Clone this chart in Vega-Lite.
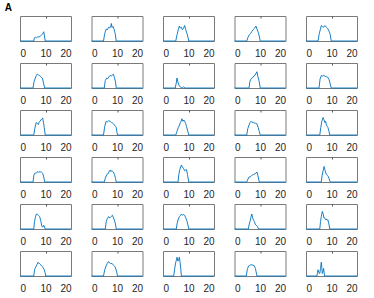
{
"$schema": "https://vega.github.io/schema/vega-lite/v6.json",
"padding": {"left": 4, "top": 3, "right": 0, "bottom": 0},
"title": {"text": "A", "anchor": "start", "fontSize": 10, "fontWeight": "bold", "font": "Liberation Sans", "dx": -12, "offset": 2, "color": "#000000"},
"datasets": {"d": [
{"r":1,"c":1,"x":0,"y":0},{"r":1,"c":1,"x":5.4,"y":0},{"r":1,"c":1,"x":5.6,"y":0.12},{"r":1,"c":1,"x":6.0,"y":0.15},{"r":1,"c":1,"x":6.5,"y":0.13},{"r":1,"c":1,"x":7.0,"y":0.17},{"r":1,"c":1,"x":7.5,"y":0.16},{"r":1,"c":1,"x":8.0,"y":0.2},{"r":1,"c":1,"x":8.5,"y":0.25},{"r":1,"c":1,"x":9.0,"y":0.3},{"r":1,"c":1,"x":9.3,"y":0.37},{"r":1,"c":1,"x":9.6,"y":0.2},{"r":1,"c":1,"x":9.9,"y":0},{"r":1,"c":1,"x":20,"y":0},
{"r":1,"c":2,"x":0,"y":0},{"r":1,"c":2,"x":4.7,"y":0},{"r":1,"c":2,"x":5.2,"y":0.3},{"r":1,"c":2,"x":5.75,"y":0.48},{"r":1,"c":2,"x":6.2,"y":0.45},{"r":1,"c":2,"x":6.7,"y":0.55},{"r":1,"c":2,"x":7.2,"y":0.52},{"r":1,"c":2,"x":7.6,"y":0.6},{"r":1,"c":2,"x":7.8,"y":0.7},{"r":1,"c":2,"x":8.0,"y":0.55},{"r":1,"c":2,"x":8.5,"y":0.58},{"r":1,"c":2,"x":8.9,"y":0.45},{"r":1,"c":2,"x":9.3,"y":0.3},{"r":1,"c":2,"x":9.7,"y":0},{"r":1,"c":2,"x":20,"y":0},
{"r":1,"c":3,"x":0,"y":0},{"r":1,"c":3,"x":5.0,"y":0},{"r":1,"c":3,"x":5.5,"y":0.25},{"r":1,"c":3,"x":6.0,"y":0.45},{"r":1,"c":3,"x":6.4,"y":0.6},{"r":1,"c":3,"x":6.8,"y":0.52},{"r":1,"c":3,"x":7.2,"y":0.55},{"r":1,"c":3,"x":7.6,"y":0.45},{"r":1,"c":3,"x":8.0,"y":0.5},{"r":1,"c":3,"x":8.5,"y":0.62},{"r":1,"c":3,"x":8.9,"y":0.45},{"r":1,"c":3,"x":9.4,"y":0.3},{"r":1,"c":3,"x":9.8,"y":0.15},{"r":1,"c":3,"x":10.1,"y":0},{"r":1,"c":3,"x":20,"y":0},
{"r":1,"c":4,"x":0,"y":0},{"r":1,"c":4,"x":4.8,"y":0},{"r":1,"c":4,"x":5.3,"y":0.15},{"r":1,"c":4,"x":5.8,"y":0.25},{"r":1,"c":4,"x":6.3,"y":0.3},{"r":1,"c":4,"x":6.8,"y":0.38},{"r":1,"c":4,"x":7.3,"y":0.45},{"r":1,"c":4,"x":7.8,"y":0.5},{"r":1,"c":4,"x":8.4,"y":0.6},{"r":1,"c":4,"x":8.8,"y":0.48},{"r":1,"c":4,"x":9.3,"y":0.35},{"r":1,"c":4,"x":9.7,"y":0.2},{"r":1,"c":4,"x":10.1,"y":0},{"r":1,"c":4,"x":20,"y":0},
{"r":1,"c":5,"x":0,"y":0},{"r":1,"c":5,"x":4.7,"y":0},{"r":1,"c":5,"x":5.2,"y":0.3},{"r":1,"c":5,"x":5.6,"y":0.45},{"r":1,"c":5,"x":6.0,"y":0.62},{"r":1,"c":5,"x":6.4,"y":0.58},{"r":1,"c":5,"x":6.9,"y":0.55},{"r":1,"c":5,"x":7.4,"y":0.62},{"r":1,"c":5,"x":8.0,"y":0.55},{"r":1,"c":5,"x":8.5,"y":0.5},{"r":1,"c":5,"x":9.0,"y":0.4},{"r":1,"c":5,"x":9.4,"y":0.3},{"r":1,"c":5,"x":9.9,"y":0},{"r":1,"c":5,"x":20,"y":0},
{"r":2,"c":1,"x":0,"y":0},{"r":2,"c":1,"x":5.1,"y":0},{"r":2,"c":1,"x":5.5,"y":0.25},{"r":2,"c":1,"x":6.0,"y":0.4},{"r":2,"c":1,"x":6.4,"y":0.5},{"r":2,"c":1,"x":6.8,"y":0.56},{"r":2,"c":1,"x":7.2,"y":0.52},{"r":2,"c":1,"x":7.6,"y":0.5},{"r":2,"c":1,"x":8.0,"y":0.47},{"r":2,"c":1,"x":8.4,"y":0.42},{"r":2,"c":1,"x":8.8,"y":0.4},{"r":2,"c":1,"x":9.2,"y":0.2},{"r":2,"c":1,"x":9.7,"y":0},{"r":2,"c":1,"x":20,"y":0},
{"r":2,"c":2,"x":0,"y":0},{"r":2,"c":2,"x":5.0,"y":0},{"r":2,"c":2,"x":5.4,"y":0.3},{"r":2,"c":2,"x":6.0,"y":0.4},{"r":2,"c":2,"x":6.4,"y":0.38},{"r":2,"c":2,"x":6.9,"y":0.45},{"r":2,"c":2,"x":7.3,"y":0.5},{"r":2,"c":2,"x":7.8,"y":0.48},{"r":2,"c":2,"x":8.2,"y":0.52},{"r":2,"c":2,"x":8.6,"y":0.55},{"r":2,"c":2,"x":9.0,"y":0.42},{"r":2,"c":2,"x":9.4,"y":0.25},{"r":2,"c":2,"x":9.7,"y":0},{"r":2,"c":2,"x":20,"y":0},
{"r":2,"c":3,"x":0,"y":0},{"r":2,"c":3,"x":4.8,"y":0},{"r":2,"c":3,"x":5.2,"y":0.2},{"r":2,"c":3,"x":5.5,"y":0.4},{"r":2,"c":3,"x":5.8,"y":0.25},{"r":2,"c":3,"x":6.2,"y":0.12},{"r":2,"c":3,"x":6.5,"y":0.08},{"r":2,"c":3,"x":7.0,"y":0.02},{"r":2,"c":3,"x":7.5,"y":0},{"r":2,"c":3,"x":8.0,"y":0.05},{"r":2,"c":3,"x":8.3,"y":0.03},{"r":2,"c":3,"x":8.7,"y":0},{"r":2,"c":3,"x":20,"y":0},
{"r":2,"c":4,"x":0,"y":0},{"r":2,"c":4,"x":5.7,"y":0},{"r":2,"c":4,"x":6.0,"y":0.25},{"r":2,"c":4,"x":6.4,"y":0.35},{"r":2,"c":4,"x":6.8,"y":0.4},{"r":2,"c":4,"x":7.2,"y":0.42},{"r":2,"c":4,"x":7.6,"y":0.48},{"r":2,"c":4,"x":8.1,"y":0.52},{"r":2,"c":4,"x":8.5,"y":0.6},{"r":2,"c":4,"x":8.8,"y":0.65},{"r":2,"c":4,"x":9.2,"y":0.45},{"r":2,"c":4,"x":9.7,"y":0.25},{"r":2,"c":4,"x":10.1,"y":0},{"r":2,"c":4,"x":20,"y":0},
{"r":2,"c":5,"x":0,"y":0},{"r":2,"c":5,"x":5.1,"y":0},{"r":2,"c":5,"x":5.5,"y":0.35},{"r":2,"c":5,"x":6.0,"y":0.5},{"r":2,"c":5,"x":6.5,"y":0.48},{"r":2,"c":5,"x":7.0,"y":0.5},{"r":2,"c":5,"x":7.5,"y":0.47},{"r":2,"c":5,"x":8.0,"y":0.45},{"r":2,"c":5,"x":8.5,"y":0.43},{"r":2,"c":5,"x":9.0,"y":0.35},{"r":2,"c":5,"x":9.4,"y":0.2},{"r":2,"c":5,"x":9.9,"y":0},{"r":2,"c":5,"x":20,"y":0},
{"r":3,"c":1,"x":0,"y":0},{"r":3,"c":1,"x":5.4,"y":0},{"r":3,"c":1,"x":5.8,"y":0.25},{"r":3,"c":1,"x":6.1,"y":0.4},{"r":3,"c":1,"x":6.4,"y":0.5},{"r":3,"c":1,"x":6.8,"y":0.45},{"r":3,"c":1,"x":7.2,"y":0.42},{"r":3,"c":1,"x":7.5,"y":0.52},{"r":3,"c":1,"x":7.8,"y":0.55},{"r":3,"c":1,"x":8.2,"y":0.6},{"r":3,"c":1,"x":8.6,"y":0.65},{"r":3,"c":1,"x":8.9,"y":0.68},{"r":3,"c":1,"x":9.2,"y":0.5},{"r":3,"c":1,"x":9.5,"y":0.3},{"r":3,"c":1,"x":9.9,"y":0},{"r":3,"c":1,"x":20,"y":0},
{"r":3,"c":2,"x":0,"y":0},{"r":3,"c":2,"x":4.7,"y":0},{"r":3,"c":2,"x":5.2,"y":0.35},{"r":3,"c":2,"x":5.75,"y":0.55},{"r":3,"c":2,"x":6.2,"y":0.52},{"r":3,"c":2,"x":6.7,"y":0.57},{"r":3,"c":2,"x":7.3,"y":0.55},{"r":3,"c":2,"x":7.8,"y":0.5},{"r":3,"c":2,"x":8.3,"y":0.48},{"r":3,"c":2,"x":8.6,"y":0.45},{"r":3,"c":2,"x":9.0,"y":0.4},{"r":3,"c":2,"x":9.4,"y":0.35},{"r":3,"c":2,"x":9.7,"y":0.3},{"r":3,"c":2,"x":10.0,"y":0.1},{"r":3,"c":2,"x":10.2,"y":0},{"r":3,"c":2,"x":20,"y":0},
{"r":3,"c":3,"x":0,"y":0},{"r":3,"c":3,"x":5.0,"y":0},{"r":3,"c":3,"x":5.5,"y":0.15},{"r":3,"c":3,"x":6.0,"y":0.3},{"r":3,"c":3,"x":6.5,"y":0.4},{"r":3,"c":3,"x":6.8,"y":0.5},{"r":3,"c":3,"x":7.1,"y":0.55},{"r":3,"c":3,"x":7.4,"y":0.65},{"r":3,"c":3,"x":7.8,"y":0.55},{"r":3,"c":3,"x":8.2,"y":0.6},{"r":3,"c":3,"x":8.5,"y":0.55},{"r":3,"c":3,"x":8.9,"y":0.45},{"r":3,"c":3,"x":9.2,"y":0.35},{"r":3,"c":3,"x":9.6,"y":0.2},{"r":3,"c":3,"x":10.1,"y":0},{"r":3,"c":3,"x":20,"y":0},
{"r":3,"c":4,"x":0,"y":0},{"r":3,"c":4,"x":4.8,"y":0},{"r":3,"c":4,"x":5.2,"y":0.25},{"r":3,"c":4,"x":5.7,"y":0.4},{"r":3,"c":4,"x":6.1,"y":0.5},{"r":3,"c":4,"x":6.5,"y":0.55},{"r":3,"c":4,"x":6.9,"y":0.5},{"r":3,"c":4,"x":7.3,"y":0.52},{"r":3,"c":4,"x":7.7,"y":0.48},{"r":3,"c":4,"x":8.2,"y":0.47},{"r":3,"c":4,"x":8.8,"y":0.45},{"r":3,"c":4,"x":9.3,"y":0.3},{"r":3,"c":4,"x":9.7,"y":0.15},{"r":3,"c":4,"x":10.1,"y":0},{"r":3,"c":4,"x":20,"y":0},
{"r":3,"c":5,"x":0,"y":0},{"r":3,"c":5,"x":5.4,"y":0},{"r":3,"c":5,"x":5.8,"y":0.3},{"r":3,"c":5,"x":6.2,"y":0.55},{"r":3,"c":5,"x":6.7,"y":0.7},{"r":3,"c":5,"x":7.0,"y":0.62},{"r":3,"c":5,"x":7.4,"y":0.5},{"r":3,"c":5,"x":7.7,"y":0.55},{"r":3,"c":5,"x":8.0,"y":0.4},{"r":3,"c":5,"x":8.3,"y":0.35},{"r":3,"c":5,"x":8.6,"y":0.3},{"r":3,"c":5,"x":9.0,"y":0.15},{"r":3,"c":5,"x":9.3,"y":0},{"r":3,"c":5,"x":20,"y":0},
{"r":4,"c":1,"x":0,"y":0},{"r":4,"c":1,"x":5.1,"y":0},{"r":4,"c":1,"x":5.4,"y":0.25},{"r":4,"c":1,"x":5.75,"y":0.35},{"r":4,"c":1,"x":6.2,"y":0.36},{"r":4,"c":1,"x":6.6,"y":0.38},{"r":4,"c":1,"x":7.1,"y":0.42},{"r":4,"c":1,"x":7.4,"y":0.38},{"r":4,"c":1,"x":7.8,"y":0.42},{"r":4,"c":1,"x":8.1,"y":0.4},{"r":4,"c":1,"x":8.4,"y":0.4},{"r":4,"c":1,"x":8.9,"y":0.35},{"r":4,"c":1,"x":9.3,"y":0.2},{"r":4,"c":1,"x":9.7,"y":0},{"r":4,"c":1,"x":20,"y":0},
{"r":4,"c":2,"x":0,"y":0},{"r":4,"c":2,"x":5.0,"y":0},{"r":4,"c":2,"x":5.4,"y":0.15},{"r":4,"c":2,"x":6.0,"y":0.3},{"r":4,"c":2,"x":6.4,"y":0.32},{"r":4,"c":2,"x":6.8,"y":0.4},{"r":4,"c":2,"x":7.3,"y":0.48},{"r":4,"c":2,"x":7.6,"y":0.42},{"r":4,"c":2,"x":8.0,"y":0.45},{"r":4,"c":2,"x":8.6,"y":0.4},{"r":4,"c":2,"x":9.0,"y":0.3},{"r":4,"c":2,"x":9.4,"y":0.15},{"r":4,"c":2,"x":9.7,"y":0},{"r":4,"c":2,"x":20,"y":0},
{"r":4,"c":3,"x":0,"y":0},{"r":4,"c":3,"x":5.9,"y":0},{"r":4,"c":3,"x":6.2,"y":0.3},{"r":4,"c":3,"x":6.6,"y":0.5},{"r":4,"c":3,"x":7.0,"y":0.62},{"r":4,"c":3,"x":7.2,"y":0.68},{"r":4,"c":3,"x":7.6,"y":0.6},{"r":4,"c":3,"x":8.0,"y":0.55},{"r":4,"c":3,"x":8.5,"y":0.45},{"r":4,"c":3,"x":8.9,"y":0.48},{"r":4,"c":3,"x":9.2,"y":0.5},{"r":4,"c":3,"x":9.6,"y":0.3},{"r":4,"c":3,"x":10.1,"y":0},{"r":4,"c":3,"x":20,"y":0},
{"r":4,"c":4,"x":0,"y":0},{"r":4,"c":4,"x":4.8,"y":0},{"r":4,"c":4,"x":5.3,"y":0.12},{"r":4,"c":4,"x":5.7,"y":0.2},{"r":4,"c":4,"x":6.1,"y":0.2},{"r":4,"c":4,"x":6.6,"y":0.25},{"r":4,"c":4,"x":7.0,"y":0.28},{"r":4,"c":4,"x":7.5,"y":0.3},{"r":4,"c":4,"x":8.0,"y":0.33},{"r":4,"c":4,"x":8.5,"y":0.36},{"r":4,"c":4,"x":8.8,"y":0.4},{"r":4,"c":4,"x":9.2,"y":0.25},{"r":4,"c":4,"x":9.7,"y":0},{"r":4,"c":4,"x":20,"y":0},
{"r":4,"c":5,"x":0,"y":0},{"r":4,"c":5,"x":6.0,"y":0},{"r":4,"c":5,"x":6.3,"y":0.25},{"r":4,"c":5,"x":6.7,"y":0.45},{"r":4,"c":5,"x":7.1,"y":0.62},{"r":4,"c":5,"x":7.5,"y":0.45},{"r":4,"c":5,"x":8.0,"y":0.3},{"r":4,"c":5,"x":8.3,"y":0.28},{"r":4,"c":5,"x":8.6,"y":0.25},{"r":4,"c":5,"x":9.0,"y":0.15},{"r":4,"c":5,"x":9.5,"y":0},{"r":4,"c":5,"x":20,"y":0},
{"r":5,"c":1,"x":0,"y":0},{"r":5,"c":1,"x":5.4,"y":0},{"r":5,"c":1,"x":5.7,"y":0.3},{"r":5,"c":1,"x":6.0,"y":0.45},{"r":5,"c":1,"x":6.4,"y":0.6},{"r":5,"c":1,"x":6.8,"y":0.58},{"r":5,"c":1,"x":7.2,"y":0.55},{"r":5,"c":1,"x":7.7,"y":0.5},{"r":5,"c":1,"x":8.1,"y":0.35},{"r":5,"c":1,"x":8.6,"y":0.1},{"r":5,"c":1,"x":8.9,"y":0.08},{"r":5,"c":1,"x":9.3,"y":0.15},{"r":5,"c":1,"x":9.6,"y":0.08},{"r":5,"c":1,"x":9.9,"y":0},{"r":5,"c":1,"x":20,"y":0},
{"r":5,"c":2,"x":0,"y":0},{"r":5,"c":2,"x":5.4,"y":0},{"r":5,"c":2,"x":5.8,"y":0.3},{"r":5,"c":2,"x":6.2,"y":0.42},{"r":5,"c":2,"x":6.7,"y":0.5},{"r":5,"c":2,"x":7.0,"y":0.45},{"r":5,"c":2,"x":7.3,"y":0.45},{"r":5,"c":2,"x":7.7,"y":0.5},{"r":5,"c":2,"x":8.2,"y":0.55},{"r":5,"c":2,"x":8.6,"y":0.45},{"r":5,"c":2,"x":9.0,"y":0.35},{"r":5,"c":2,"x":9.4,"y":0.2},{"r":5,"c":2,"x":9.7,"y":0},{"r":5,"c":2,"x":20,"y":0},
{"r":5,"c":3,"x":0,"y":0},{"r":5,"c":3,"x":5.2,"y":0},{"r":5,"c":3,"x":5.6,"y":0.25},{"r":5,"c":3,"x":6.0,"y":0.4},{"r":5,"c":3,"x":6.5,"y":0.5},{"r":5,"c":3,"x":6.9,"y":0.55},{"r":5,"c":3,"x":7.2,"y":0.6},{"r":5,"c":3,"x":7.6,"y":0.55},{"r":5,"c":3,"x":8.0,"y":0.58},{"r":5,"c":3,"x":8.5,"y":0.55},{"r":5,"c":3,"x":8.9,"y":0.45},{"r":5,"c":3,"x":9.3,"y":0.35},{"r":5,"c":3,"x":9.7,"y":0.2},{"r":5,"c":3,"x":10.1,"y":0},{"r":5,"c":3,"x":20,"y":0},
{"r":5,"c":4,"x":0,"y":0},{"r":5,"c":4,"x":5.4,"y":0},{"r":5,"c":4,"x":5.8,"y":0.2},{"r":5,"c":4,"x":6.2,"y":0.35},{"r":5,"c":4,"x":6.5,"y":0.5},{"r":5,"c":4,"x":6.8,"y":0.6},{"r":5,"c":4,"x":7.1,"y":0.45},{"r":5,"c":4,"x":7.5,"y":0.35},{"r":5,"c":4,"x":7.8,"y":0.3},{"r":5,"c":4,"x":8.1,"y":0.2},{"r":5,"c":4,"x":8.5,"y":0.15},{"r":5,"c":4,"x":9.0,"y":0.1},{"r":5,"c":4,"x":9.4,"y":0},{"r":5,"c":4,"x":20,"y":0},
{"r":5,"c":5,"x":0,"y":0},{"r":5,"c":5,"x":5.4,"y":0},{"r":5,"c":5,"x":5.7,"y":0.3},{"r":5,"c":5,"x":6.0,"y":0.5},{"r":5,"c":5,"x":6.4,"y":0.7},{"r":5,"c":5,"x":6.8,"y":0.58},{"r":5,"c":5,"x":7.0,"y":0.45},{"r":5,"c":5,"x":7.3,"y":0.45},{"r":5,"c":5,"x":7.6,"y":0.38},{"r":5,"c":5,"x":8.0,"y":0.4},{"r":5,"c":5,"x":8.3,"y":0.35},{"r":5,"c":5,"x":8.6,"y":0.37},{"r":5,"c":5,"x":9.0,"y":0.2},{"r":5,"c":5,"x":9.3,"y":0},{"r":5,"c":5,"x":20,"y":0},
{"r":6,"c":1,"x":0,"y":0},{"r":6,"c":1,"x":5.4,"y":0},{"r":6,"c":1,"x":5.7,"y":0.25},{"r":6,"c":1,"x":6.1,"y":0.35},{"r":6,"c":1,"x":6.6,"y":0.45},{"r":6,"c":1,"x":7.1,"y":0.55},{"r":6,"c":1,"x":7.4,"y":0.5},{"r":6,"c":1,"x":7.7,"y":0.5},{"r":6,"c":1,"x":8.1,"y":0.45},{"r":6,"c":1,"x":8.5,"y":0.4},{"r":6,"c":1,"x":9.0,"y":0.35},{"r":6,"c":1,"x":9.5,"y":0.25},{"r":6,"c":1,"x":9.8,"y":0.15},{"r":6,"c":1,"x":10.1,"y":0},{"r":6,"c":1,"x":20,"y":0},
{"r":6,"c":2,"x":0,"y":0},{"r":6,"c":2,"x":4.7,"y":0},{"r":6,"c":2,"x":5.2,"y":0.25},{"r":6,"c":2,"x":5.7,"y":0.4},{"r":6,"c":2,"x":6.2,"y":0.5},{"r":6,"c":2,"x":6.7,"y":0.58},{"r":6,"c":2,"x":7.1,"y":0.52},{"r":6,"c":2,"x":7.5,"y":0.5},{"r":6,"c":2,"x":8.0,"y":0.5},{"r":6,"c":2,"x":8.5,"y":0.45},{"r":6,"c":2,"x":9.0,"y":0.4},{"r":6,"c":2,"x":9.3,"y":0.35},{"r":6,"c":2,"x":9.8,"y":0.2},{"r":6,"c":2,"x":10.2,"y":0},{"r":6,"c":2,"x":20,"y":0},
{"r":6,"c":3,"x":0,"y":0},{"r":6,"c":3,"x":4.2,"y":0},{"r":6,"c":3,"x":4.6,"y":0.3},{"r":6,"c":3,"x":5.0,"y":0.55},{"r":6,"c":3,"x":5.2,"y":0.62},{"r":6,"c":3,"x":5.5,"y":0.75},{"r":6,"c":3,"x":5.8,"y":0.6},{"r":6,"c":3,"x":6.1,"y":0.62},{"r":6,"c":3,"x":6.4,"y":0.75},{"r":6,"c":3,"x":6.7,"y":0.55},{"r":6,"c":3,"x":7.0,"y":0.25},{"r":6,"c":3,"x":7.2,"y":0},{"r":6,"c":3,"x":20,"y":0},
{"r":6,"c":4,"x":0,"y":0},{"r":6,"c":4,"x":4.6,"y":0},{"r":6,"c":4,"x":5.0,"y":0.25},{"r":6,"c":4,"x":5.5,"y":0.4},{"r":6,"c":4,"x":5.9,"y":0.42},{"r":6,"c":4,"x":6.4,"y":0.45},{"r":6,"c":4,"x":6.8,"y":0.45},{"r":6,"c":4,"x":7.2,"y":0.43},{"r":6,"c":4,"x":7.7,"y":0.42},{"r":6,"c":4,"x":8.2,"y":0.3},{"r":6,"c":4,"x":8.8,"y":0},{"r":6,"c":4,"x":20,"y":0},
{"r":6,"c":5,"x":0,"y":0},{"r":6,"c":5,"x":4.3,"y":0},{"r":6,"c":5,"x":4.5,"y":0.15},{"r":6,"c":5,"x":4.7,"y":0.25},{"r":6,"c":5,"x":4.9,"y":0.2},{"r":6,"c":5,"x":5.1,"y":0.12},{"r":6,"c":5,"x":5.4,"y":0.1},{"r":6,"c":5,"x":5.7,"y":0.3},{"r":6,"c":5,"x":6.0,"y":0.55},{"r":6,"c":5,"x":6.2,"y":0.35},{"r":6,"c":5,"x":6.4,"y":0.1},{"r":6,"c":5,"x":6.6,"y":0.15},{"r":6,"c":5,"x":6.9,"y":0.3},{"r":6,"c":5,"x":7.1,"y":0.15},{"r":6,"c":5,"x":7.3,"y":0},{"r":6,"c":5,"x":20,"y":0}
]},
"data": {"name": "d"},
"facet": {
  "row": {"field": "r", "type": "ordinal", "header": {"labels": false, "title": null}},
  "column": {"field": "c", "type": "ordinal", "header": {"labels": false, "title": null}}
},
"spacing": {"row": 22, "column": 20.5},
"bounds": "flush",
"resolve": {"axis": {"x": "independent"}},
"spec": {
  "width": 51,
  "height": 25,
  "layer": [
    {
      "mark": {"type": "line", "color": "#0072BD", "strokeWidth": 0.9},
      "encoding": {
        "x": {"field": "x", "type": "quantitative", "scale": {"domain": [0, 20], "nice": false},
              "axis": {"orient": "bottom", "values": [0, 10, 20], "domain": false, "ticks": false, "grid": false, "title": null, "labelPadding": 7}},
        "y": {"field": "y", "type": "quantitative", "scale": {"domain": [0, 1], "nice": false}, "axis": null}
      }
    },
    {
      "mark": {"type": "point", "opacity": 0},
      "encoding": {
        "x": {"field": "x", "type": "quantitative", "scale": {"domain": [0, 20], "nice": false},
              "axis": {"orient": "top", "values": [10], "labels": false, "domain": false, "grid": false, "title": null, "tickSize": -2, "tickColor": "#555555"}},
        "y": {"field": "y", "type": "quantitative", "scale": {"domain": [0, 1], "nice": false}, "axis": null}
      }
    }
  ]
},
"config": {
  "view": {"stroke": "#7a7a7a", "strokeWidth": 1},
  "axis": {"labelFont": "Liberation Sans", "labelFontSize": 10, "labelColor": "#262626"}
}
}
